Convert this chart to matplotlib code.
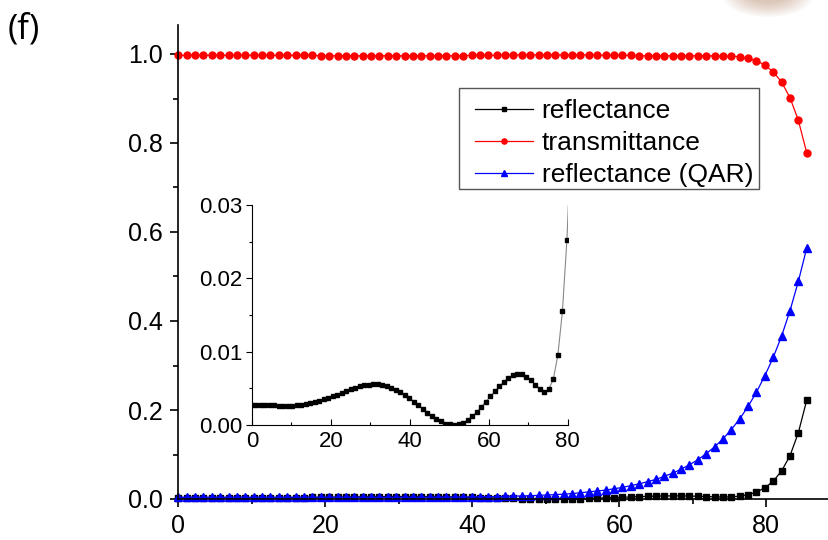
import matplotlib
matplotlib.use("Agg")
import matplotlib.pyplot as plt
from matplotlib.patches import Ellipse, Rectangle
from matplotlib.ticker import MultipleLocator

plt.rcParams.update({
    "font.family": ["Liberation Sans", "DejaVu Sans"],
    "axes.linewidth": 1.2,
})

# incidence angle (deg)
angle = [0.00, 1.14, 2.28, 3.42, 4.56, 5.70, 6.84, 7.98, 9.12, 10.26,
         11.40, 12.54, 13.68, 14.82, 15.96, 17.10, 18.24, 19.38, 20.52, 21.66,
         22.80, 23.94, 25.08, 26.22, 27.36, 28.50, 29.64, 30.78, 31.92, 33.06,
         34.20, 35.34, 36.48, 37.62, 38.76, 39.90, 41.04, 42.18, 43.32, 44.46,
         45.60, 46.74, 47.88, 49.02, 50.16, 51.30, 52.44, 53.58, 54.72, 55.86,
         57.00, 58.14, 59.28, 60.42, 61.56, 62.70, 63.84, 64.98, 66.12, 67.26,
         68.40, 69.54, 70.68, 71.82, 72.96, 74.10, 75.24, 76.38, 77.52, 78.66,
         79.80, 80.94, 82.08, 83.22, 84.36, 85.50]

reflectance = [0.0027, 0.0027, 0.0027, 0.0027, 0.0027, 0.0027, 0.0026, 0.0026, 0.0026, 0.0026,
               0.0027, 0.0027, 0.0028, 0.0030, 0.0031, 0.0033, 0.0035, 0.0037, 0.0039, 0.0041,
               0.0044, 0.0046, 0.0049, 0.0051, 0.0053, 0.0054, 0.0055, 0.0056, 0.0056, 0.0055,
               0.0053, 0.0051, 0.0048, 0.0045, 0.0041, 0.0037, 0.0032, 0.0027, 0.0022, 0.0017,
               0.0012, 0.0008, 0.0005, 0.0002, 0.0001, 0.0000, 0.0001, 0.0003, 0.0007, 0.0012,
               0.0018, 0.0025, 0.0032, 0.0039, 0.0046, 0.0053, 0.0059, 0.0064, 0.0068, 0.0070,
               0.0069, 0.0066, 0.0061, 0.0055, 0.0049, 0.0045, 0.0049, 0.0063, 0.0096, 0.0155,
               0.0252, 0.040, 0.063, 0.097, 0.149, 0.222]

transmittance = [0.997, 0.997, 0.997, 0.997, 0.997, 0.997, 0.997, 0.997, 0.997, 0.997,
                 0.997, 0.997, 0.997, 0.997, 0.997, 0.997, 0.997, 0.996, 0.996, 0.996,
                 0.996, 0.996, 0.996, 0.996, 0.996, 0.996, 0.996, 0.996, 0.996, 0.996,
                 0.996, 0.996, 0.996, 0.996, 0.996, 0.997, 0.997, 0.997, 0.997, 0.998,
                 0.998, 0.998, 0.998, 0.998, 0.998, 0.998, 0.998, 0.998, 0.998, 0.998,
                 0.998, 0.997, 0.997, 0.997, 0.997, 0.996, 0.996, 0.996, 0.996, 0.996,
                 0.996, 0.996, 0.996, 0.996, 0.996, 0.995, 0.995, 0.994, 0.990, 0.985,
                 0.975, 0.960, 0.937, 0.902, 0.851, 0.778]

reflectance_qar = [0.0040, 0.0040, 0.0040, 0.0040, 0.0040, 0.0040, 0.0040, 0.0040, 0.0040, 0.0040,
                   0.0040, 0.0040, 0.0040, 0.0040, 0.0040, 0.0040, 0.0040, 0.0040, 0.0040, 0.0040,
                   0.0040, 0.0040, 0.0040, 0.0040, 0.0040, 0.0040, 0.0040, 0.0040, 0.0040, 0.0040,
                   0.0041, 0.0042, 0.0043, 0.0044, 0.0046, 0.0048, 0.0050, 0.0053, 0.0056, 0.0060,
                   0.0064, 0.0069, 0.0075, 0.0082, 0.0090, 0.0098, 0.011, 0.012, 0.014, 0.016,
                   0.018, 0.020, 0.023, 0.026, 0.030, 0.034, 0.039, 0.044, 0.051, 0.058,
                   0.067, 0.077, 0.088, 0.102, 0.117, 0.135, 0.156, 0.180, 0.208, 0.240,
                   0.277, 0.318, 0.366, 0.423, 0.489, 0.564]

W, H = 829, 540
fig = plt.figure(figsize=(W / 100, H / 100), dpi=100)

# main panel
ax = fig.add_axes([178.3 / W, 1 - 499 / H, (W - 178.3) / W, (499 - 25) / H])
ax.plot(angle, reflectance, color="black", lw=0.9, marker="s", ms=4.0,
        label="reflectance", clip_on=False)
ax.plot(angle, transmittance, color="red", lw=0.9, marker="o", ms=5.0,
        label="transmittance", clip_on=False)
ax.plot(angle, reflectance_qar, color="blue", lw=0.9, marker="^", ms=5.5,
        label="reflectance (QAR)", clip_on=False)

ax.set_xlim(0, (W - 178.3) / 7.35)
ax.set_ylim(0, (499 - 25) / 445)
ax.spines["top"].set_visible(False)
ax.spines["right"].set_visible(False)
ax.xaxis.set_major_locator(MultipleLocator(20))
ax.xaxis.set_minor_locator(MultipleLocator(10))
ax.yaxis.set_major_locator(MultipleLocator(0.2))
ax.yaxis.set_minor_locator(MultipleLocator(0.1))
ax.yaxis.set_major_formatter(plt.FuncFormatter(lambda v, _: f"{v:.1f}"))
ax.tick_params(which="major", length=6, width=1.2, labelsize=18, pad=5)
ax.tick_params(which="minor", length=3.5, width=1.2)

# legend without its own frame; the box is drawn separately
leg = ax.legend(loc="upper left", bbox_to_anchor=(475 / W, 1 - 99 / H),
                bbox_transform=fig.transFigure, fontsize=19, frameon=False,
                borderaxespad=0, borderpad=0, handlelength=2.2,
                handletextpad=0.32, labelspacing=0.31, markerscale=0.75)
fig.add_artist(Rectangle((459 / W, 1 - 189 / H), 300 / W, 101 / H,
                         transform=fig.transFigure, fill=False,
                         edgecolor="#555555", lw=1.0, zorder=5))

# inset
ins = fig.add_axes([252 / W, 1 - 425 / H, (567.7 - 252) / W, (425 - 205) / H])
ins.patch.set_alpha(0)
ins.plot(angle, reflectance, color="#888888", lw=0.8, marker="s", ms=3.0,
         mfc="black", mec="black")
ins.set_xlim(0, 80)
ins.set_ylim(0, 0.03)
ins.spines["top"].set_visible(False)
ins.spines["right"].set_visible(False)
for s in ("left", "bottom"):
    ins.spines[s].set_linewidth(0.8)
ins.xaxis.set_major_locator(MultipleLocator(20))
ins.xaxis.set_minor_locator(MultipleLocator(10))
ins.yaxis.set_major_locator(MultipleLocator(0.01))
ins.yaxis.set_minor_locator(MultipleLocator(0.005))
ins.yaxis.set_major_formatter(plt.FuncFormatter(lambda v, _: f"{v:.2f}"))
ins.tick_params(axis="x", which="both", direction="in", labelsize=16, pad=4)
ins.tick_params(axis="y", which="both", direction="out", labelsize=16, pad=3)
ins.tick_params(which="major", length=4, width=0.8)
ins.tick_params(which="minor", length=2, width=0.8)

# panel label
fig.text(8 / W, 1 - 30 / H, "(f)", fontsize=25, family="Open Sans",
         ha="left", va="center")

# faint smear from the neighbouring panel (top right)
for i in range(12):
    f = 1 - i / 12
    fig.add_artist(Ellipse((768 / W, 1 + 4 / H), (30 + 60 * f) / W,
                           (12 + 30 * f) / H, transform=fig.transFigure,
                           color="#a87048", alpha=0.035, lw=0))

fig.savefig("out.png", dpi=100)
